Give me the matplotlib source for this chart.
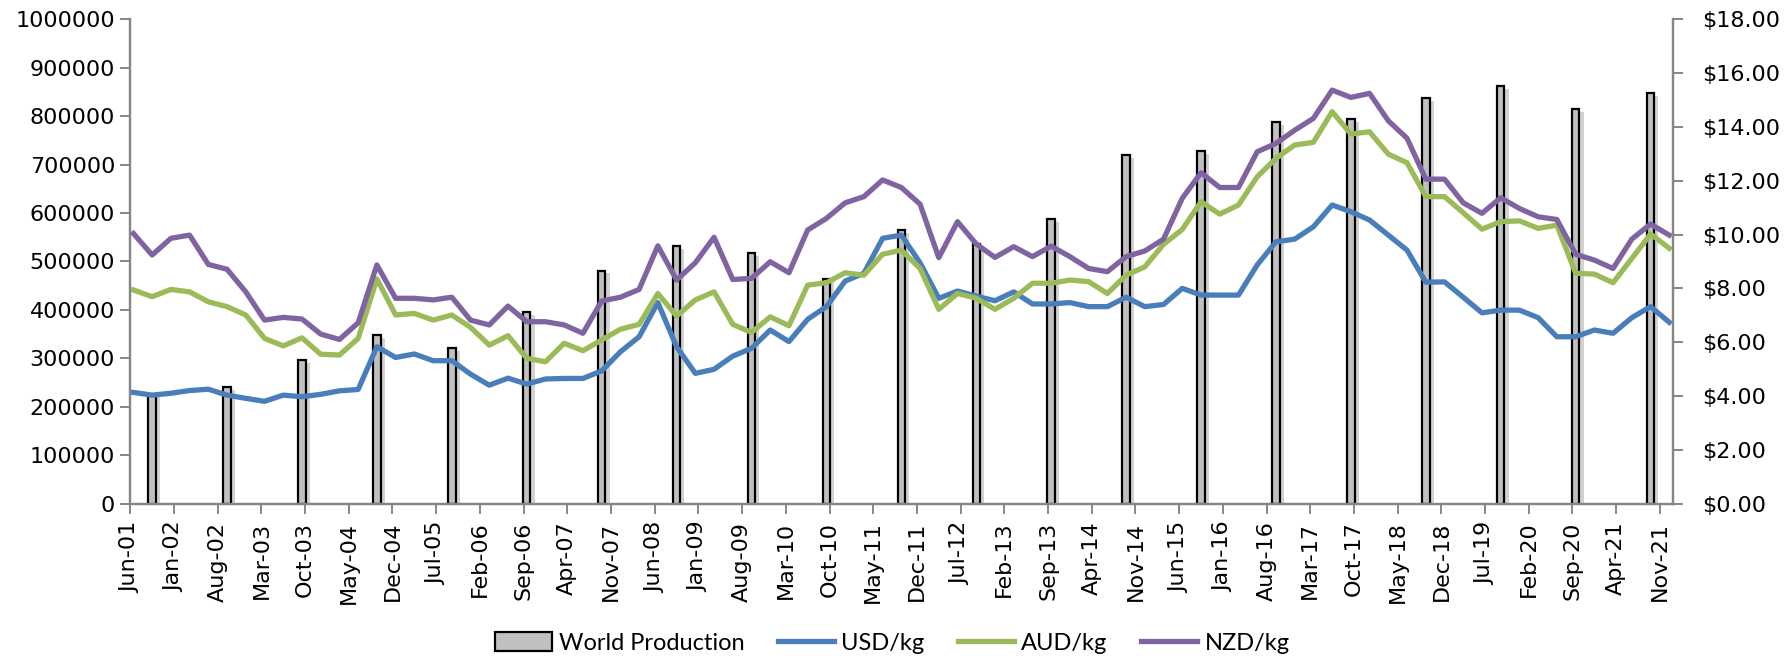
import matplotlib
matplotlib.use("Agg")
import matplotlib.pyplot as plt
import matplotlib.patheffects as pe
from matplotlib.ticker import FuncFormatter
from matplotlib.lines import Line2D
from matplotlib.patches import Patch
import numpy as np
import pandas as pd

# quarterly wool prices, Jun-01 .. Dec-21
price_dates = pd.date_range("2001-06-01", periods=83, freq="3MS")
usd = [4.13, 4.03, 4.10, 4.20, 4.25, 4.03, 3.91, 3.80, 4.03, 3.97, 4.06, 4.19, 4.24, 5.83,
       5.43, 5.56, 5.31, 5.31, 4.81, 4.40, 4.66, 4.44, 4.63, 4.65, 4.65, 4.93, 5.64, 6.20,
       7.47, 5.83, 4.84, 4.99, 5.48, 5.77, 6.45, 6.02, 6.85, 7.32, 8.27, 8.56, 9.86, 9.98,
       8.95, 7.63, 7.90, 7.71, 7.54, 7.87, 7.42, 7.42, 7.47, 7.32, 7.32, 7.67, 7.32, 7.40,
       8.00, 7.75, 7.75, 7.75, 8.87, 9.73, 9.83, 10.29, 11.10, 10.85, 10.54, 9.98, 9.42,
       8.23, 8.24, 7.67, 7.09, 7.19, 7.19, 6.91, 6.20, 6.20, 6.45, 6.33, 6.91, 7.32, 6.74]
aud = [7.94, 7.69, 7.96, 7.87, 7.50, 7.32, 7.01, 6.14, 5.86, 6.16, 5.55, 5.52, 6.14, 8.35,
       7.01, 7.07, 6.82, 7.01, 6.55, 5.89, 6.24, 5.40, 5.27, 5.96, 5.68, 6.08, 6.48, 6.66,
       7.81, 6.97, 7.57, 7.87, 6.66, 6.36, 6.94, 6.61, 8.12, 8.21, 8.58, 8.49, 9.27, 9.42,
       8.74, 7.22, 7.81, 7.63, 7.22, 7.63, 8.19, 8.19, 8.31, 8.25, 7.81, 8.49, 8.80, 9.64,
       10.19, 11.22, 10.76, 11.10, 12.15, 12.83, 13.33, 13.43, 14.57, 13.74, 13.82, 12.99,
       12.67, 11.41, 11.41, 10.81, 10.20, 10.48, 10.51, 10.23, 10.35, 8.56, 8.53, 8.21,
       9.11, 10.02, 9.49]
nzd = [10.04, 9.24, 9.86, 9.98, 8.89, 8.71, 7.87, 6.82, 6.92, 6.86, 6.30, 6.10, 6.72, 8.87,
       7.63, 7.63, 7.57, 7.67, 6.82, 6.64, 7.34, 6.76, 6.76, 6.64, 6.33, 7.53, 7.67, 7.96,
       9.58, 8.31, 8.95, 9.90, 8.33, 8.37, 8.99, 8.58, 10.17, 10.60, 11.18, 11.41, 12.03,
       11.75, 11.13, 9.14, 10.48, 9.65, 9.15, 9.55, 9.18, 9.57, 9.18, 8.74, 8.62, 9.18, 9.39,
       9.83, 11.35, 12.30, 11.75, 11.75, 13.08, 13.39, 13.88, 14.32, 15.37, 15.10, 15.25,
       14.23, 13.58, 12.06, 12.06, 11.18, 10.79, 11.37, 10.97, 10.66, 10.56, 9.27, 9.05,
       8.74, 9.83, 10.39, 9.98]

# annual world production
prod_dates = pd.date_range("2001-09-01", periods=21, freq="12MS")
production = [225000, 241000, 297000, 348000, 321000, 395000, 481000, 532000, 517000,
              464000, 565000, 537000, 587000, 720000, 728000, 788000, 794000, 837000,
              863000, 814000, 847000]

tick_labels = ["Jun-01", "Jan-02", "Aug-02", "Mar-03", "Oct-03", "May-04", "Dec-04",
               "Jul-05", "Feb-06", "Sep-06", "Apr-07", "Nov-07", "Jun-08", "Jan-09",
               "Aug-09", "Mar-10", "Oct-10", "May-11", "Dec-11", "Jul-12", "Feb-13",
               "Sep-13", "Apr-14", "Nov-14", "Jun-15", "Jan-16", "Aug-16", "Mar-17",
               "Oct-17", "May-18", "Dec-18", "Jul-19", "Feb-20", "Sep-20", "Apr-21",
               "Nov-21"]


def months(dates):
    # months since Jun 2001, centred in the month
    return (dates.year - 2001) * 12 + dates.month - 6 + 0.5


c_usd = "#4a7ebb"
c_aud = "#9bbb59"
c_nzd = "#8064a2"
grey = "#868686"

plt.rcParams["font.family"] = "DejaVu Sans"

fig = plt.figure(figsize=(17.92, 6.6), dpi=100)
ax = fig.add_axes([0.0727, 0.2371, 0.9336 - 0.0727, 0.9706 - 0.2371])
ax2 = ax.twinx()

ax.bar(months(prod_dates), production, width=1.2, color="#c0c0c0", edgecolor="black",
       linewidth=1.6, zorder=2,
       path_effects=[pe.SimplePatchShadow(offset=(3, -2), shadow_rgbFace="#808080", alpha=0.35),
                     pe.Normal()])

lw = 3.8
ax2.plot(months(price_dates), usd, color=c_usd, lw=lw, solid_joinstyle="round")
ax2.plot(months(price_dates), aud, color=c_aud, lw=lw, solid_joinstyle="round")
ax2.plot(months(price_dates), nzd, color=c_nzd, lw=lw, solid_joinstyle="round")

ax.set_xlim(0, 247.1)
ax.set_ylim(0, 1000000)
ax2.set_ylim(0, 18)
ax.set_yticks(np.arange(0, 1000001, 100000))
ax2.set_yticks(np.arange(0, 18.1, 2))
ax.yaxis.set_major_formatter(FuncFormatter(lambda v, p: f"{int(v)}"))
ax2.yaxis.set_major_formatter(FuncFormatter(lambda v, p: f"${v:.2f}"))
ax.set_xticks(np.arange(len(tick_labels)) * 7)
ax.set_xticklabels(tick_labels, rotation=90)

for a in (ax, ax2):
    a.spines["top"].set_visible(False)
    for s in ("left", "right", "bottom"):
        a.spines[s].set_color(grey)
        a.spines[s].set_linewidth(1.6)
    a.tick_params(axis="both", colors=grey, labelcolor="black", labelsize=16,
                  length=7, width=1.4, direction="out")
ax.tick_params(axis="y", pad=4)
ax2.tick_params(axis="y", pad=14)
ax.tick_params(axis="x", pad=6)

handles = [Patch(facecolor="#c0c0c0", edgecolor="black", linewidth=1.6),
           Line2D([], [], color=c_usd, lw=lw),
           Line2D([], [], color=c_aud, lw=lw),
           Line2D([], [], color=c_nzd, lw=lw)]
fig.legend(handles, ["World Production", "USD/kg", "AUD/kg", "NZD/kg"],
           loc="center", bbox_to_anchor=(0.498, 0.026), ncol=4, frameon=False,
           prop={"family": "Lato", "size": 17}, handlelength=2.4, handleheight=0.9,
           handletextpad=0.3, columnspacing=1.4)

fig.savefig("out.png", dpi=100)
